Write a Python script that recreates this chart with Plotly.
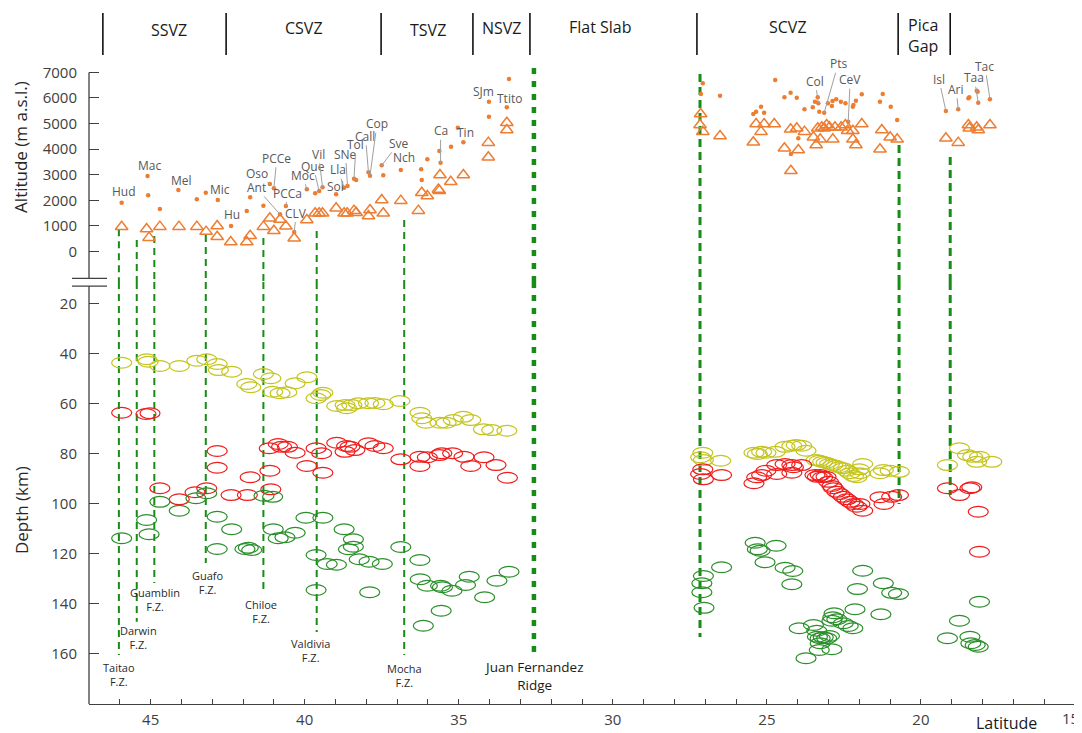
import plotly.graph_objects as go

# ---------------- colours / fonts ----------------
ORANGE = "#ED7D31"
YELLOW = "#c4c41c"
RED = "#f01c1c"
GREEN = "#2a8f2a"
LINE_GREEN = "#178c17"
AXIS = "#404040"
FONT = "Open Sans"

# ---------------- altitude panel data ----------------
TRI_LAT_SVZ = [45.94, 45.13, 45.05, 44.70, 44.08, 43.50, 43.20, 42.84, 42.84, 42.40,
               41.88, 41.77, 41.34, 41.13, 41.00, 40.80, 40.61, 40.34, 39.93, 39.66,
               39.53, 39.42, 38.98, 38.72, 38.62, 38.40, 38.33, 37.93, 37.88, 37.50,
               37.45, 36.88, 36.31, 36.20, 36.02, 35.66, 35.63, 35.61, 35.26, 34.85,
               34.04, 34.04, 33.44, 33.44]
TRI_ALT_SVZ = [970, 880, 545, 975, 975, 975, 780, 1000, 580, 375,
               375, 620, 975, 1300, 815, 1255, 990, 520, 1235, 1495,
               1495, 1495, 1690, 1495, 1495, 1600, 1520, 1390, 1625, 2015,
               1495, 1990, 1600, 2300, 2170, 2430, 2380, 2990, 2730, 2990,
               4255, 3685, 5035, 4750]
TRI_LAT_CVZ = [27.15, 27.17, 27.08, 26.52, 25.44, 25.35, 25.19, 25.09, 24.76, 24.43,
               24.23, 24.22, 24.03, 23.98, 23.78, 23.49, 23.40, 23.35, 23.27, 23.22,
               23.14, 23.06, 22.97, 22.86, 22.79, 22.59, 22.45, 22.38, 22.21, 22.21,
               22.11, 21.92, 21.33, 21.27, 21.00, 20.77, 19.19, 18.79, 18.46, 18.43,
               18.19, 18.14, 17.76]
TRI_ALT_CVZ = [5375, 4945, 4685, 4515, 4270, 4985, 4685, 4985, 4985, 4035,
               4775, 3160, 4815, 3970, 4685, 4465, 4165, 4815, 4385, 4855,
               4815, 4945, 4855, 4385, 4855, 4855, 4945, 4720, 4720, 4385,
               4165, 4985, 4000, 4750, 4465, 4385, 4425, 4255, 4945, 4815,
               4855, 4750, 4945]

DOT_LAT_SVZ = [45.94, 45.10, 45.08, 44.70, 44.10, 43.50, 43.21, 42.82, 42.39, 41.88,
               41.77, 41.34, 41.13, 41.00, 40.80, 40.61, 40.34, 39.93, 39.66, 39.53,
               39.42, 38.98, 38.72, 38.61, 38.40, 38.33, 37.93, 37.88, 37.50, 37.45,
               36.88, 36.22, 36.20, 36.02, 35.63, 35.59, 35.25, 35.03, 34.85, 34.02,
               34.02, 33.44, 33.37]
DOT_ALT_SVZ = [1910, 2955, 2200, 1665, 2405, 2045, 2300, 2015, 1000, 1585,
               2120, 1795, 2640, 2475, 1455, 1780, 765, 2435, 2275, 2365,
               2510, 2240, 2495, 2560, 2845, 2795, 3095, 2965, 3370, 2980,
               3185, 3215, 2795, 3605, 3930, 3470, 4095, 4840, 4270, 5855,
               5270, 5635, 6740]
DOT_LAT_CVZ = [27.08, 27.14, 26.52, 24.73, 25.44, 25.35, 25.19, 25.09, 24.43, 24.23,
               24.03, 23.78, 24.22, 23.98, 23.51, 23.44, 23.35, 23.33, 23.30, 23.14,
               23.02, 22.89, 22.87, 22.75, 22.60, 22.45, 22.21, 22.19, 22.11, 21.92,
               22.36, 21.33, 21.24, 20.98, 20.77, 19.19, 18.79, 18.46, 18.43, 18.19,
               18.16, 18.14, 17.76]
DOT_ALT_CVZ = [6575, 6155, 6090, 6705, 5375, 5465, 5660, 5425, 6025, 6205,
               6010, 5560, 3810, 4425, 5635, 5855, 6025, 5795, 5465, 5425,
               5795, 5685, 5880, 5950, 5855, 5795, 5660, 5725, 5895, 6145,
               5075, 5855, 6155, 5660, 5140, 5490, 5560, 5990, 6025, 6285,
               6245, 5815, 5950]

# volcano labels: name, lat/alt of labelled dot, text offset (px), leader line
VOLC_NAME = ["Hud", "Mac", "Mel", "Mic", "Hu", "Oso", "Ant", "PCCe", "PCCa", "CLV",
             "Moc", "Que", "Vil", "Sol", "Lla", "SNe", "Tol", "Call", "Cop", "Sve",
             "Nch", "Ca", "Tin", "SJm", "Ttito", "Col", "Pts", "CeV", "Isl", "Ari",
             "Taa", "Tac"]
VOLC_LAT = [45.94, 45.10, 44.10, 43.21, 42.39, 41.13, 40.80, 41.00, 40.61, 40.34,
            39.93, 39.53, 39.42, 38.98, 38.72, 38.61, 38.40, 37.93, 37.88, 37.50,
            36.88, 35.59, 34.85, 34.02, 33.44, 23.33, 23.14, 22.36, 19.19, 18.79,
            18.14, 17.76]
VOLC_ALT = [1910, 2955, 2405, 2300, 1000, 2640, 1455, 2475, 1780, 765,
            2435, 2365, 2510, 2240, 2495, 2560, 2845, 3095, 2965, 3370,
            3185, 3470, 4270, 5855, 5635, 5795, 5425, 5075, 5490, 5560,
            5815, 5950]
VOLC_DX = [2, 2, 3, 14, 1, -13, -24, 3, 2, 2,
           -4, -6, -4, -1, -6, -2, 2, -3, 7, 17,
           3, 0, 2, -5, 3, -3, 14, 2, -7, -2,
           -4, -5]
VOLC_DY = [-11, -10, -10, -3, -11, -11, -27, -30, -13, -19,
           -14, -25, -33, -8, -18, -32, -34, -36, -52, -22,
           -13, -32, -10, -10, -9, -22, -49, -42, -32, -20,
           -25, -33]
VOLC_LEADER = [False, False, False, False, False, True, True, True, True, True,
               True, True, True, False, True, True, True, True, True, True,
               False, True, False, False, False, True, True, True, True, True,
               True, True]

# ---------------- depth panel data (ellipses) ----------------
YEL_LAT_SVZ = [45.94, 45.13, 45.08, 44.70, 44.07, 43.50, 43.18, 42.84, 42.80, 42.37,
               41.88, 41.75, 41.34, 41.10, 41.04, 40.80, 40.58, 40.31, 39.93, 39.63,
               39.48, 39.41, 38.96, 38.69, 38.64, 38.47, 38.26, 37.93, 37.72, 37.45,
               36.91, 36.26, 36.20, 36.06, 35.61, 35.41, 35.18, 34.85, 34.61, 34.20,
               33.93, 33.44]
YEL_DEP_SVZ = [43.8, 42.4, 43.4, 45.1, 45.1, 43.0, 42.4, 44.3, 46.7, 47.4,
               52.3, 53.6, 48.3, 50.0, 55.4, 56.0, 55.6, 52.0, 49.6, 58.0,
               56.7, 55.8, 61.1, 60.7, 62.0, 60.7, 60.0, 60.0, 59.9, 60.4,
               59.1, 63.8, 66.0, 67.8, 67.8, 67.8, 66.7, 65.4, 66.7, 70.4,
               70.7, 71.0]
RED_LAT_SVZ = [45.94, 45.15, 45.02, 42.84, 42.84, 41.77, 41.15, 40.86, 40.75, 40.56,
               40.31, 41.13, 39.93, 39.63, 39.45, 39.41, 38.96, 38.69, 38.64, 38.53,
               38.37, 44.70, 44.07, 43.56, 43.18, 42.39, 41.86, 41.10, 37.93, 37.72,
               37.45, 36.88, 36.26, 36.26, 36.02, 35.63, 35.55, 35.20, 34.83, 34.61,
               34.18, 33.79, 33.42]
RED_DEP_SVZ = [63.8, 64.3, 64.0, 79.1, 85.8, 89.6, 78.0, 76.3, 77.4, 77.4,
               79.8, 87.0, 85.1, 78.0, 80.0, 87.8, 75.8, 79.4, 77.1, 77.4,
               78.7, 94.0, 98.4, 95.6, 94.0, 96.7, 96.7, 94.4, 76.0, 77.1,
               78.0, 82.4, 81.4, 85.1, 81.6, 80.7, 80.0, 80.0, 81.4, 85.1,
               81.6, 84.7, 89.8]
GRN_LAT_SVZ = [45.94, 45.13, 45.05, 44.70, 44.07, 43.53, 43.18, 42.84, 42.37, 42.84,
               41.94, 41.72, 41.83, 41.32, 41.04, 41.02, 40.86, 40.64, 40.31, 39.96,
               39.41, 39.63, 39.27, 39.63, 38.72, 38.58, 38.42, 38.42, 38.23, 38.97,
               37.91, 37.48, 37.89, 36.88, 36.26, 36.25, 36.02, 35.59, 35.53, 35.22,
               34.78, 34.66, 33.76, 33.37, 34.16, 35.57, 36.15]
GRN_DEP_SVZ = [114.0, 106.7, 112.4, 99.4, 103.0, 98.0, 96.0, 105.4, 110.4, 118.3,
               118.3, 118.7, 117.8, 97.0, 97.4, 110.4, 114.0, 113.6, 111.8, 105.8,
               105.8, 120.7, 124.3, 134.7, 110.4, 118.4, 117.4, 114.4, 122.4, 124.6,
               123.4, 124.3, 135.6, 117.5, 122.7, 130.4, 133.0, 133.0, 133.6, 135.0,
               132.7, 129.4, 131.0, 127.4, 137.6, 143.0, 149.0]

YEL_LAT_CVZ = [27.08, 27.15, 27.06, 26.50, 25.42, 25.31, 25.17, 25.03, 24.73, 24.41,
               24.19, 24.05, 23.87, 23.73, 23.40, 23.30, 23.19, 23.08, 22.97, 22.86,
               22.75, 22.65, 22.52, 22.41, 22.30, 22.19, 22.08, 22.00, 21.89, 21.98,
               21.33, 21.22, 21.00, 20.70, 19.14, 18.75, 18.49, 18.32, 18.19, 18.10,
               17.70]
YEL_DEP_CVZ = [79.8, 81.6, 82.7, 83.0, 79.8, 80.3, 79.4, 79.8, 79.4, 77.4,
               77.0, 76.7, 77.0, 79.0, 82.7, 83.0, 83.4, 83.8, 84.3, 84.7,
               85.1, 85.6, 86.0, 87.0, 88.0, 89.1, 89.6, 86.4, 84.3, 88.0,
               88.0, 86.7, 87.0, 87.4, 84.7, 78.0, 80.7, 81.4, 83.4, 81.4,
               83.4]
RED_LAT_CVZ = [27.08, 27.15, 27.06, 26.47, 25.42, 25.33, 25.17, 25.03, 24.68, 24.68,
               24.41, 24.14, 24.19, 24.19, 23.87, 23.44, 23.36, 23.27, 23.19, 23.08,
               23.00, 22.89, 22.84, 22.73, 22.63, 22.52, 22.41, 22.30, 22.19, 22.08,
               21.89, 21.98, 21.33, 21.20, 20.95, 20.73, 19.14, 18.75, 18.41, 18.35,
               18.14, 18.10]
RED_DEP_CVZ = [86.4, 88.3, 90.4, 88.7, 92.0, 89.6, 88.7, 87.0, 88.3, 84.7,
               84.3, 85.6, 87.8, 84.7, 84.7, 88.7, 89.4, 88.7, 89.6, 89.4,
               91.4, 93.1, 94.0, 95.4, 96.3, 97.4, 98.4, 99.4, 100.3, 101.4,
               103.0, 100.3, 97.6, 100.3, 97.4, 96.7, 94.0, 96.7, 94.0, 93.6,
               103.4, 119.4]
GRN_LAT_CVZ = [25.38, 25.31, 25.22, 24.70, 25.06, 24.41, 24.16, 24.19, 26.47, 27.06,
               27.11, 27.11, 27.04, 21.89, 21.22, 22.06, 20.95, 20.73, 22.14, 21.30,
               22.82, 22.86, 22.73, 22.52, 22.36, 22.21, 22.89, 23.95, 23.49, 23.38,
               23.36, 23.27, 23.17, 23.06, 22.97, 23.27, 23.30, 22.89, 23.73, 18.10,
               18.75, 19.14, 18.41, 18.38, 18.14, 18.24]
GRN_DEP_CVZ = [115.8, 118.4, 119.0, 117.0, 123.6, 125.8, 127.1, 132.4, 125.6, 129.1,
               132.0, 135.6, 141.8, 127.0, 132.0, 134.3, 135.8, 136.3, 142.4, 144.4,
               144.0, 145.6, 146.4, 148.0, 149.1, 150.0, 147.0, 150.0, 148.7, 151.0,
               153.4, 154.0, 153.6, 154.0, 153.1, 156.0, 158.7, 158.4, 162.0, 139.4,
               147.0, 154.0, 153.4, 156.0, 157.4, 156.7]

# ---------------- fracture zones / ridge / CVZ boundaries ----------------
FZ_NAME = ["Taitao<br>F.Z.", "Darwin<br>F.Z.", "Guamblin<br>F.Z.", "Guafo<br>F.Z.",
           "Chiloe<br>F.Z.", "Valdivia<br>F.Z.", "Mocha<br>F.Z."]
FZ_LAT = [46.03, 45.45, 44.88, 43.21, 41.34, 39.61, 36.77]
FZ_TOP_ALT = [870, 450, 605, 645, 530, 805, 1235]
FZ_BOT_DEP = [160.7, 147.4, 131.9, 123.9, 135.9, 151.5, 160.7]
FZ_LABEL_LAT = [46.04, 45.39, 44.85, 43.14, 41.43, 39.82, 36.75]
FZ_LABEL_DEP = [168.5, 153.5, 138.6, 131.7, 143.2, 159.0, 168.7]

JF_NAME = "Juan Fernandez<br>Ridge"
JF_LAT = [32.56]
JF_TOP_ALT = [7170]
JF_BOT_DEP = [160.5]
JF_LABEL_LAT = 32.57
JF_LABEL_DEP = 169.2

CVZ_LAT = [27.17, 20.71, 19.05]
CVZ_TOP_ALT = [6935, 4165, 3695]
CVZ_BOT_DEP = [153.5, 100.3, 96.7]

# ---------------- volcanic zone header ----------------
ZONE_BOUNDS = [46.55, 42.55, 37.52, 34.54, 32.69, 27.27, 20.74, 19.05]
ZONE_NAME = ["SSVZ", "CSVZ", "TSVZ", "NSVZ", "Flat Slab", "SCVZ", "Pica<br>Gap"]
ZONE_LAT = [44.40, 40.02, 36.00, 33.60, 30.41, 24.31, 19.93]
ZONE_Y = [1.0466, 1.0497, 1.0466, 1.0497, 1.0513, 1.0513, 1.0373]

# ---------------- axis ticks ----------------
ALT_TICKS = [0, 1000, 2000, 3000, 4000, 5000, 6000, 7000]
DEPTH_TICKS = [20, 40, 60, 80, 100, 120, 140, 160]
LAT_TICKS = [45, 40, 35, 30, 25, 20]
LAT_LAST_TICK = 15

# layout constants (axis geometry)
ALT_RANGE = [-17672, 7484]
DEPTH_RANGE = [180.28, -77.32]
BREAK_ALT = -1190      # where the lines cross the axis break (altitude axis)
BREAK_DEP = 11.5       # same place on the depth axis
AXIS_BREAK_ALT = -1043
AXIS_BREAK_DEP = 13.1
ELL_HALF_W = 0.325     # ellipse half width (deg)
ELL_HALF_H = 2.15      # ellipse half height (km)

fig = go.Figure()


def vsegments(lats, a, b):
    xs, ys = [], []
    for lat, y0, y1 in zip(lats, a, b):
        xs += [lat, lat, None]
        ys += [y0, y1, None]
    return xs, ys


def add_vlines(lats, tops, bots, width, dash):
    xs, ys = vsegments(lats, tops, [BREAK_ALT] * len(lats))
    fig.add_trace(go.Scatter(x=xs, y=ys, yaxis="y", mode="lines",
                             line=dict(color=LINE_GREEN, width=width, dash=dash),
                             hoverinfo="skip", showlegend=False))
    xs, ys = vsegments(lats, [BREAK_DEP] * len(lats), bots)
    fig.add_trace(go.Scatter(x=xs, y=ys, yaxis="y2", mode="lines",
                             line=dict(color=LINE_GREEN, width=width, dash=dash),
                             hoverinfo="skip", showlegend=False))


add_vlines(FZ_LAT, FZ_TOP_ALT, FZ_BOT_DEP, 2, "7px,5px")
add_vlines(JF_LAT, JF_TOP_ALT, JF_BOT_DEP, 4.5, "6px,7px")
add_vlines(CVZ_LAT, CVZ_TOP_ALT, CVZ_BOT_DEP, 3, "8px,5px")

fig.add_trace(go.Scatter(x=TRI_LAT_SVZ + TRI_LAT_CVZ, y=TRI_ALT_SVZ + TRI_ALT_CVZ,
                         yaxis="y", mode="markers", name="volcano",
                         marker=dict(symbol="triangle-up-open", size=11, color=ORANGE,
                                     line=dict(width=1.5, color=ORANGE)),
                         showlegend=False))
fig.add_trace(go.Scatter(x=DOT_LAT_SVZ + DOT_LAT_CVZ, y=DOT_ALT_SVZ + DOT_ALT_CVZ,
                         yaxis="y", mode="markers", name="summit",
                         marker=dict(symbol="circle", size=4.5, color=ORANGE),
                         showlegend=False))

shapes = []


def add_ellipses(lats, deps, color):
    for lat, d in zip(lats, deps):
        shapes.append(dict(type="circle", xref="x", yref="y2",
                           x0=lat - ELL_HALF_W, x1=lat + ELL_HALF_W,
                           y0=d - ELL_HALF_H, y1=d + ELL_HALF_H,
                           line=dict(color=color, width=1.2),
                           fillcolor="rgba(0,0,0,0)", layer="above"))


add_ellipses(YEL_LAT_SVZ + YEL_LAT_CVZ, YEL_DEP_SVZ + YEL_DEP_CVZ, YELLOW)
add_ellipses(RED_LAT_SVZ + RED_LAT_CVZ, RED_DEP_SVZ + RED_DEP_CVZ, RED)
add_ellipses(GRN_LAT_SVZ + GRN_LAT_CVZ, GRN_DEP_SVZ + GRN_DEP_CVZ, GREEN)

# y axis lines with break
shapes.append(dict(type="line", xref="paper", yref="y", x0=0, x1=0,
                   y0=AXIS_BREAK_ALT, y1=ALT_TICKS[-1], line=dict(color=AXIS, width=1.3)))
shapes.append(dict(type="line", xref="paper", yref="y2", x0=0, x1=0,
                   y0=AXIS_BREAK_DEP, y1=DEPTH_RANGE[0], line=dict(color=AXIS, width=1.3)))
shapes.append(dict(type="line", xref="paper", yref="y", x0=-0.0172, x1=0.0183,
                   y0=AXIS_BREAK_ALT, y1=AXIS_BREAK_ALT, line=dict(color=AXIS, width=1.3)))
shapes.append(dict(type="line", xref="paper", yref="y2", x0=-0.0172, x1=0.0183,
                   y0=AXIS_BREAK_DEP, y1=AXIS_BREAK_DEP, line=dict(color=AXIS, width=1.3)))

# zone dividers
for lat in ZONE_BOUNDS:
    shapes.append(dict(type="line", xref="x", yref="paper", x0=lat, x1=lat,
                       y0=1.0078, y1=1.073, line=dict(color="#111111", width=1.6)))

annotations = []
for name, lat, y in zip(ZONE_NAME, ZONE_LAT, ZONE_Y):
    annotations.append(dict(x=lat, y=y, xref="x", yref="paper", text=name,
                            xanchor="center", yanchor="middle",
                            showarrow=False, font=dict(family=FONT, size=16, color="#1a1a1a")))

for name, lat, alt, dx, dy, lead in zip(VOLC_NAME, VOLC_LAT, VOLC_ALT, VOLC_DX,
                                        VOLC_DY, VOLC_LEADER):
    f = dict(family=FONT, size=12, color="#595959")
    if lead:
        annotations.append(dict(x=lat, y=alt, xref="x", yref="y", text=name,
                                showarrow=True, arrowhead=0, arrowwidth=1,
                                arrowcolor="#a0a0a0", ax=dx, ay=dy, font=f, borderpad=0))
    else:
        annotations.append(dict(x=lat, y=alt, xref="x", yref="y", text=name,
                                xanchor="center", yanchor="middle",
                                showarrow=False, xshift=dx, yshift=-dy, font=f, borderpad=0))

for name, lat, d in zip(FZ_NAME, FZ_LABEL_LAT, FZ_LABEL_DEP):
    annotations.append(dict(x=lat, y=d, xref="x", yref="y2", text=name,
                            xanchor="center", yanchor="middle",
                            showarrow=False, font=dict(family=FONT, size=11, color="#2a2a2a")))
annotations.append(dict(x=JF_LABEL_LAT, y=JF_LABEL_DEP, xref="x", yref="y2", text=JF_NAME,
                        xanchor="center", yanchor="middle",
                        showarrow=False, font=dict(family=FONT, size=13.5, color="#1a1a1a")))

annotations.append(dict(x=-0.069, y=0.865, xref="paper", yref="paper",
                        xanchor="center", yanchor="middle",
                        text="Altitude (m a.s.l.)", textangle=-90, showarrow=False,
                        font=dict(family=FONT, size=17, color="#262626")))
annotations.append(dict(x=-0.069, y=0.301, xref="paper", yref="paper",
                        xanchor="center", yanchor="middle",
                        text="Depth (km)", textangle=-90, showarrow=False,
                        font=dict(family=FONT, size=17, color="#262626")))
annotations.append(dict(x=0.931, y=-0.030, xref="paper", yref="paper",
                        xanchor="center", yanchor="middle",
                        text="Latitude", showarrow=False,
                        font=dict(family=FONT, size=16, color="#1a1a1a")))
# last tick label sits at the very edge of the page: keep it inside
annotations.append(dict(x=LAT_LAST_TICK, y=-0.0215, xref="x", yref="paper",
                        xanchor="right", yanchor="middle", xshift=6,
                        text=str(LAT_LAST_TICK), showarrow=False,
                        font=dict(family=FONT, size=15, color=AXIS)))

tickfont = dict(family=FONT, size=15, color=AXIS)
# the page places the figure 8px from the top-left corner
fig.update_layout(
    width=1074, height=725,
    margin=dict(l=81, r=7, t=52, b=29, autoexpand=False),
    paper_bgcolor="white", plot_bgcolor="white",
    showlegend=False,
    xaxis=dict(range=[47, 15], domain=[0, 1], anchor="y", showgrid=False, zeroline=False,
               automargin=False,
               showline=True, linecolor=AXIS, linewidth=1.3,
               tickmode="array", tickvals=LAT_TICKS + [LAT_LAST_TICK],
               ticktext=[str(v) for v in LAT_TICKS] + [""],
               ticks="inside", ticklen=5,
               tickcolor=AXIS, tickwidth=1, tickfont=tickfont, ticklabelstandoff=2,
               minor=dict(ticks="inside", ticklen=5, tickcolor=AXIS, dtick=1, tick0=15,
                          showgrid=False)),
    yaxis=dict(range=ALT_RANGE, domain=[0, 1], anchor="x", showgrid=False, zeroline=False,
               automargin=False,
               showline=False, tickmode="array", tickvals=ALT_TICKS, ticks="inside",
               ticklen=10, tickcolor=AXIS, tickwidth=1.3, tickfont=tickfont,
               ticklabelstandoff=11),
    yaxis2=dict(range=DEPTH_RANGE, overlaying="y", side="left", anchor="x",
                automargin=False,
                showgrid=False, zeroline=False, showline=False, tickmode="array",
                tickvals=DEPTH_TICKS, ticks="inside", ticklen=10, tickcolor=AXIS,
                tickwidth=1.3, tickfont=tickfont, ticklabelstandoff=11),
    shapes=shapes,
    annotations=annotations,
)

fig.write_html("out.html")
